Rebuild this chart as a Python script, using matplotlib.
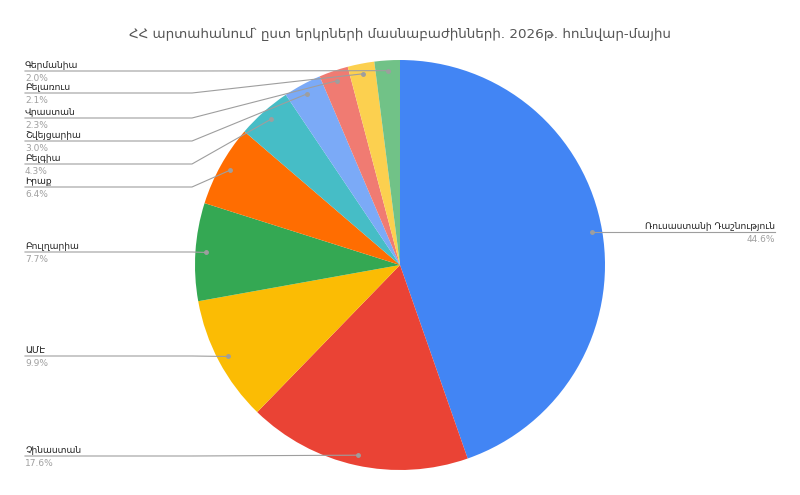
import numpy as np
import matplotlib
matplotlib.use("Agg")
from matplotlib import pyplot as plt

plt.rcParams['font.family'] = ['DejaVu Sans']

countries = ['Ռուսաստանի Դաշնություն', 'Չինաստան', 'ԱՄԷ', 'Բուլղարիա', 'Իրաք',
             'Բելգիա', 'Շվեյցարիա', 'Վրաստան', 'Բելառուս', 'Գերմանիա']
shares = [44.6, 17.6, 9.9, 7.7, 6.4, 4.3, 3.0, 2.3, 2.1, 2.0]
colors = ['#4285F4', '#EA4335', '#FBBC04', '#34A853', '#FF6D01',
          '#46BDC6', '#7BAAF7', '#F07B72', '#FCD04F', '#71C287']
title = 'ՀՀ արտահանում՝ ըստ երկրների մասնաբաժինների. 2026թ. հունվար-մայիս'

# label line heights in pixels from top (layout only)
label_y = [232, 456, 356, 252, 187, 164, 141, 118, 93, 71]

W, H = 800, 495
cx, cy, R = 400, 265, 205


def Y(y):
    return H - y


fig = plt.figure(figsize=(8, 4.95), dpi=100)
ax = fig.add_axes([0, 0, 1, 1])
wedges, _ = ax.pie(shares, colors=colors, startangle=90, counterclock=False,
                   center=(cx, Y(cy)), radius=R, wedgeprops=dict(linewidth=0))
ax.set_aspect('auto')
ax.set_xlim(0, W)
ax.set_ylim(0, H)
ax.axis('off')

line_c = '#9e9e9e'
name_fs, pct_fs = 6.6, 6.5
for w, name, val, ly in zip(wedges, countries, shares, label_y):
    mid = np.radians((w.theta1 + w.theta2) / 2)
    dx = cx + 0.95 * R * np.cos(mid)
    dy = Y(cy) + 0.95 * R * np.sin(mid)
    ax.plot([dx], [dy], 'o', ms=2.5, color=line_c, zorder=5)
    if np.cos(mid) > 0:
        ax.plot([dx, 775], [dy, dy], color=line_c, lw=0.8, zorder=4)
        ax.text(775, dy + 1, name, ha='right', va='bottom', fontsize=name_fs, color='#222222')
        ax.text(775, dy - 3, f'{val:.1f}%', ha='right', va='top', fontsize=pct_fs, color='#a0a0a0')
    else:
        ax.plot([25, 192, dx], [Y(ly), Y(ly), dy], color=line_c, lw=0.8, zorder=4)
        ax.text(25, Y(ly) + 1, name, ha='left', va='bottom', fontsize=name_fs, color='#222222')
        ax.text(25, Y(ly) - 3, f'{val:.1f}%', ha='left', va='top', fontsize=pct_fs, color='#a0a0a0')

ax.text(W / 2, Y(34), title, ha='center', va='center', fontsize=9.7, color='#555555')

fig.savefig('out.png', dpi=100)
